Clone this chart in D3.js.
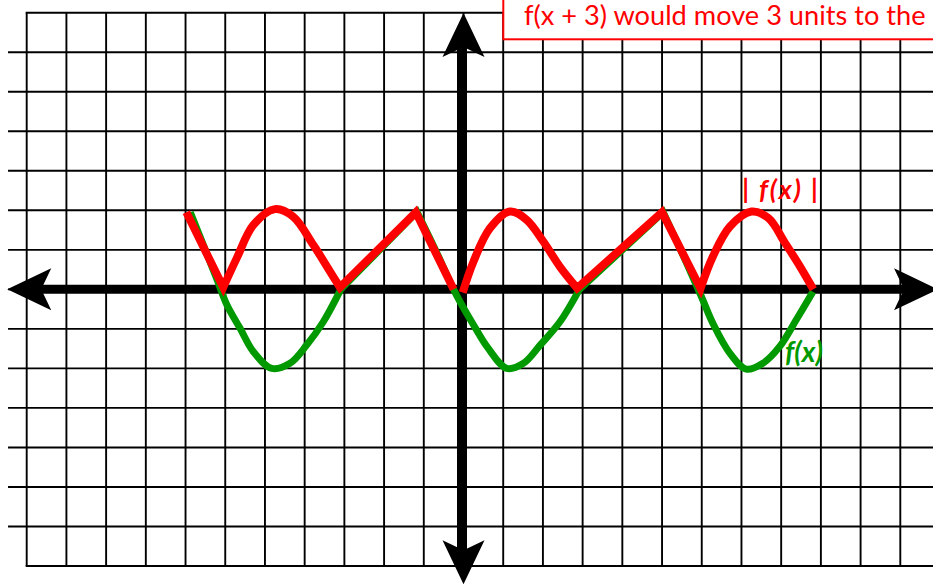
<!DOCTYPE html>
<html>
<head>
<meta charset="utf-8">
<script src="https://cdn.jsdelivr.net/npm/d3@7"></script>
<style>
  html, body { margin: 0; padding: 0; background: #fff; overflow: hidden; }
  svg { display: block; }
</style>
</head>
<body>
<svg id="chart" width="933" height="586"></svg>
<script>
// Graph-paper units: one square = one unit
const gridCols = d3.range(-11, 13);   // vertical rules
const gridRows = d3.range(-7, 8);     // horizontal rules

// f(x) — green curve, traced piece by piece (corners between pieces stay sharp)
const fHumpA = [[-6.88, 1.95], [-6.22, 0.28], [-5.96, -0.39], [-5.63, -0.98], [-5.29, -1.58],
                [-4.83, -2.0], [-4.37, -1.87], [-3.95, -1.41], [-3.53, -0.82], [-3.09, 0.0]];
const fRampA = [[-3.09, 0.0], [-1.17, 1.96]];
const fHumpB = [[-1.17, 1.96], [-0.67, 0.92], [-0.18, -0.14], [0.30, -0.98], [0.62, -1.49],
                [1.09, -2.0], [1.51, -1.87], [1.93, -1.41], [2.43, -0.82], [2.92, 0.0]];
const fRampB = [[2.92, 0.0], [5.03, 1.95]];
const fHumpC = [[5.03, 1.95], [5.52, 0.88], [5.99, -0.18], [6.28, -0.86], [6.71, -1.62],
                [7.12, -2.02], [7.54, -1.87], [7.96, -1.45], [8.38, -0.77], [8.80, -0.06]];

// |f(x)| — red curve
const absLegA  = [[-6.98, 1.95], [-6.05, 0.05]];
const absHumpA = [[-6.05, 0.05], [-5.71, 0.79], [-5.29, 1.63], [-4.75, 2.03], [-4.29, 1.84],
                  [-3.78, 1.12], [-3.36, 0.45], [-3.11, 0.05]];
const absRampA = [[-3.11, 0.05], [-1.2, 1.95], [-0.25, 0.0]];
const absHumpB = [[-0.02, -0.08], [0.25, 0.70], [0.67, 1.55], [1.17, 1.97], [1.59, 1.76],
                  [2.01, 1.21], [2.43, 0.57], [2.86, 0.03]];
const absRampB = [[2.86, 0.03], [5.0, 1.95], [5.97, 0.02]];
const absHumpC = [[5.97, 0.02], [6.28, 0.83], [6.71, 1.59], [7.25, 1.97], [7.68, 1.80],
                  [8.10, 1.17], [8.48, 0.57], [8.81, 0.0]];

// Text
const noteText = "f(x + 3) would move 3 units to the";
const absLabel = "| f(x) |";
const fLabel = "f(x)";

const RED = "#ff0000";
const GREEN = "#009a00";

const svg = d3.select("#chart");
const x = d3.scaleLinear().domain([-11, 11]).range([26.7, 900.3]);
const y = d3.scaleLinear().domain([7, -7]).range([12.7, 566]);

// ---- grid ----
const grid = svg.append("g").attr("stroke", "#000").attr("stroke-width", 1.9);
grid.selectAll("line.v").data(gridCols).join("line")
  .attr("class", "v")
  .attr("x1", d => x(d)).attr("x2", d => x(d))
  .attr("y1", y(7)).attr("y2", y(-7));
grid.selectAll("line.h").data(gridRows).join("line")
  .attr("class", "h")
  .attr("x1", d => (Math.abs(d) === 7 ? x(-11) - 1 : x(-11.47)))
  .attr("x2", x(12.2))
  .attr("y1", d => y(d)).attr("y2", d => y(d));

// ---- axes with arrowheads ----
const axes = svg.append("g");
const x0 = x(0) - 1.5, y0 = y(0);
const xLeft = x(-11.49), xRight = x(11.95), yTop = y(6.99), yBottom = y(-7.46);
axes.append("line").attr("x1", xLeft + 20).attr("x2", xRight - 20)
  .attr("y1", y0).attr("y2", y0).attr("stroke", "#000").attr("stroke-width", 9);
axes.append("line").attr("x1", x0).attr("x2", x0)
  .attr("y1", yTop + 20).attr("y2", yBottom - 20).attr("stroke", "#000").attr("stroke-width", 10);

const L = 44, W = 21, N = 34;
function arrow(tx, ty, dx, dy) {
  // (dx, dy) points from the tip back toward the shaft
  const px = -dy, py = dx;
  const p = [
    [tx, ty],
    [tx + dx * L + px * W, ty + dy * L + py * W],
    [tx + dx * N, ty + dy * N],
    [tx + dx * L - px * W, ty + dy * L - py * W]
  ];
  return "M" + p.map(q => q.join(",")).join("L") + "Z";
}
axes.append("path").attr("d", arrow(xLeft, y0, 1, 0)).attr("fill", "#000");
axes.append("path").attr("d", arrow(xRight, y0, -1, 0)).attr("fill", "#000");
axes.append("path").attr("d", arrow(x0 + 1.5, yTop, 0, 1)).attr("fill", "#000");
axes.append("path").attr("d", arrow(x0 + 1.5, yBottom, 0, -1)).attr("fill", "#000");

// ---- curves ----
function joinPieces(pieces) {
  let d = "";
  pieces.forEach(([pts, smooth], i) => {
    const gen = d3.line().x(q => x(q[0])).y(q => y(q[1]))
      .curve(smooth ? d3.curveCatmullRom.alpha(0.5) : d3.curveLinear);
    let s = gen(pts);
    if (i > 0) s = s.replace(/^M[^A-Za-z]*/, "");
    d += s;
  });
  return d;
}

svg.append("path")
  .attr("d", joinPieces([[fHumpA, true], [fRampA, false], [fHumpB, true], [fRampB, false], [fHumpC, true]]))
  .attr("fill", "none").attr("stroke", GREEN).attr("stroke-width", 7)
  .attr("stroke-linejoin", "miter").attr("stroke-linecap", "butt");

const redG = svg.append("g").attr("fill", "none").attr("stroke", RED).attr("stroke-width", 8)
  .attr("stroke-linejoin", "miter").attr("stroke-linecap", "butt");
redG.append("path").attr("d", joinPieces([[absLegA, false], [absHumpA, true], [absRampA, false]]));
redG.append("path").attr("d", joinPieces([[absHumpB, true], [absRampB, false], [absHumpC, true]]));

// ---- labels ----
svg.append("text").attr("x", 742).attr("y", 199)
  .attr("font-family", "Lato").attr("font-weight", 700).attr("font-style", "italic")
  .attr("font-size", 27).attr("fill", RED)
  .attr("textLength", 76).attr("lengthAdjust", "spacing")
  .style("white-space", "pre").text(absLabel);
svg.append("text").attr("x", 785).attr("y", 362)
  .attr("font-family", "Lato").attr("font-weight", 700).attr("font-style", "italic")
  .attr("font-size", 28).attr("fill", GREEN).text(fLabel);

// ---- note box ----
svg.append("rect").attr("x", 503.3).attr("y", -10).attr("width", 500).attr("height", 49.3)
  .attr("fill", "#fff").attr("stroke", RED).attr("stroke-width", 2);
svg.append("text").attr("x", 524).attr("y", 25)
  .attr("font-family", "Lato").attr("font-size", 27.2).attr("fill", RED)
  .style("white-space", "pre").text(noteText);
</script>
</body>
</html>
